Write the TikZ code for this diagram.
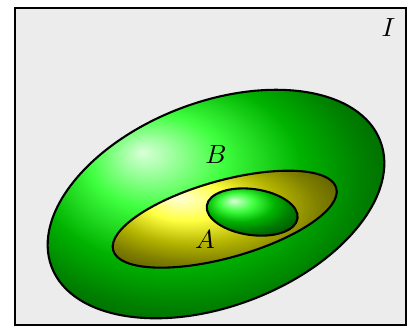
\documentclass[tikz,border=0pt]{standalone}
\usepackage{amsmath,amssymb}
\usepackage{tikz}
\usetikzlibrary{positioning,calc,backgrounds}
\tikzset{
  keret/.style={draw,thick,fill=gray!15},
  halm/.style={draw,thick},
  cimke/.style={inner sep=1pt},
}

\begin{document}
\begin{tikzpicture}
  \useasboundingbox (0,0) rectangle (5.48,4.382);
  \draw[keret] (0.205,0.03) rectangle (5.445,4.278);
  % B, A and the small set inside A
  \shadedraw[halm,ball color=green,shift={(2.894,1.648)},rotate=21] (0,0) ellipse (2.358 and 1.367);
  \shadedraw[halm,ball color=yellow,shift={(3.011,1.445)},rotate=15.6] (0,0) ellipse (1.552 and 0.517);
  \shadedraw[halm,ball color=green,shift={(3.379,1.541)},rotate=-8] (0,0) ellipse (0.614 and 0.308);
  \node[cimke] (I) at (5.205,4.013) {$I$};
  \node[cimke] (B) at (2.894,2.311) {$B$};
  \node[cimke] (A) at (2.747,1.179) {$A$};
\end{tikzpicture}
\end{document}
